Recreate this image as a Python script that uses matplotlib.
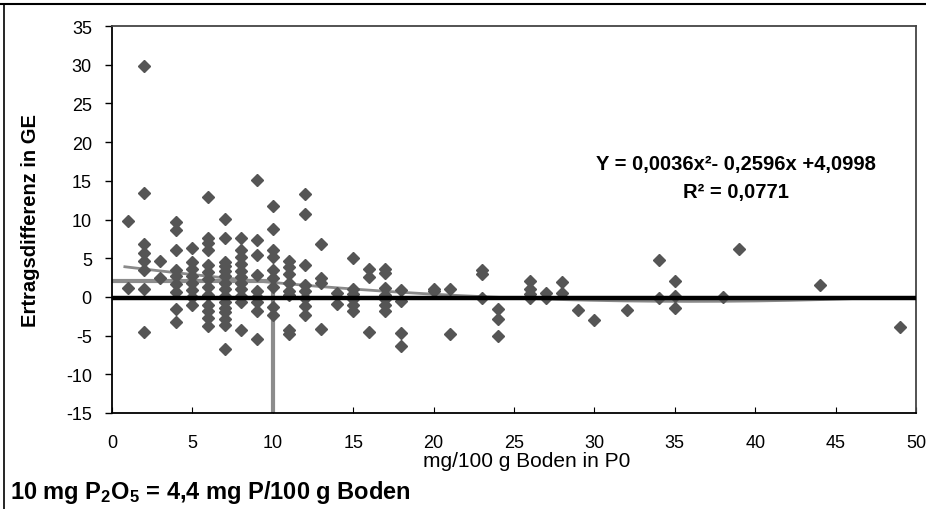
import matplotlib
matplotlib.use("Agg")
import matplotlib.pyplot as plt
from matplotlib.lines import Line2D
import numpy as np

plt.rcParams['font.family'] = ['Liberation Sans', 'DejaVu Sans']
plt.rcParams['axes.unicode_minus'] = False
plt.rcParams['mathtext.fontset'] = 'custom'
plt.rcParams['mathtext.rm'] = 'Liberation Sans:bold'
plt.rcParams['mathtext.it'] = 'Liberation Sans:bold'
plt.rcParams['mathtext.bf'] = 'Liberation Sans:bold'

# ---- data: P content (mg/100 g soil) -> yield difference (GE) ----
cols = {
    1: [9.8, 1.1],
    2: [29.8, 13.4, 6.8, 5.7, 4.6, 3.5, 1.0, -4.5],
    3: [4.7, 2.4],
    4: [9.7, 8.6, 6.1, 3.5, 2.7, 1.7, 0.6, -1.5, -3.2],
    5: [6.3, 4.5, 3.6, 2.7, 1.8, 0.9, 0.0, -1.0],
    6: [12.9, 7.6, 7.0, 6.0, 4.1, 3.2, 2.3, 1.3, 0.3, -1.0, -1.8, -2.7, -3.8],
    7: [10.1, 7.6, 4.5, 4.0, 3.3, 2.7, 1.8, 1.0, 0.1, -0.7, -1.4, -2.0, -2.8, -3.6, -6.7],
    8: [7.6, 6.1, 5.1, 4.3, 3.4, 2.6, 1.8, 1.0, 0.1, -0.7, -4.3],
    9: [15.1, 7.3, 5.4, 2.8, 0.7, 0.0, -0.7, -1.8, -5.4],
    10: [11.8, 8.8, 6.1, 5.2, 3.5, 2.4, 1.3, -1.3, -2.4],
    11: [4.7, 3.8, 2.9, 1.8, 0.7, 0.3, -4.3, -4.8],
    12: [13.3, 10.7, 4.1, 1.6, 0.8, -0.1, -1.2, -2.3],
    13: [6.8, 2.4, 1.8, -4.1],
    14: [0.5, -0.9],
    15: [5.0, 1.0, 0.4, -0.3, -1.1, -1.8],
    16: [3.6, 2.6, -4.5],
    17: [3.6, 3.1, 1.1, 0.3, -0.3, -1.0, -1.8],
    18: [0.9, -0.5, -4.6, -6.4],
    20: [1.0, 0.7],
    21: [1.0, -4.8],
    23: [3.5, 3.0, -0.2],
    24: [-1.5, -2.9, -5.0],
    26: [2.0, 1.0, 0.4, -0.2],
    27: [0.5, -0.2],
    28: [1.9, 0.5],
    29: [-1.7],
    30: [-3.0],
    32: [-1.7],
    34: [4.8, -0.2],
    35: [2.0, 0.1, -1.4],
    38: [0.0],
    39: [6.2],
    44: [1.5],
    49: [-3.9],
}
x_vals = [float(k) for k, v in cols.items() for _ in v]
y_vals = [yy for k, v in cols.items() for yy in v]

# regression Y = 0,0036x^2 - 0,2596x + 4,0998
coef = [0.0036, -0.2596, 4.0998]
trend_range = [0.8, 46.5]

# reference lines
zero_level = -0.2
ref_level = 2.0
ref_x = 10.0

x_ticks = [0, 5, 10, 15, 20, 25, 30, 35, 40, 45, 50]
y_ticks = [-15, -10, -5, 0, 5, 10, 15, 20, 25, 30, 35]

W, H = 926, 510
fig = plt.figure(figsize=(W / 100, H / 100), dpi=100)
ax = fig.add_axes([112 / W, (H - 414) / H, (916 - 112) / W, (414 - 27) / H])

# trend curve
xt = np.linspace(trend_range[0], trend_range[1], 200)
ax.plot(xt, np.polyval(coef, xt), color='#8a8a8a', lw=2.0, zorder=2)

# gray marker lines
ax.plot([0, ref_x], [ref_level, ref_level], color='#8c8c8c', lw=3.0, zorder=2,
        solid_capstyle='butt')
ax.plot([ref_x, ref_x], [ref_level, -15], color='#8c8c8c', lw=3.0, zorder=2,
        solid_capstyle='butt')

# zero line
ax.axhline(zero_level, color='black', lw=3.2, zorder=4)

# scatter
ax.plot(x_vals, y_vals, linestyle='none', marker='D', ms=6.4,
        color='#555555', mec='#555555', zorder=3)

ax.set_xlim(0, 50)
ax.set_ylim(-15, 35)
ax.set_xticks(x_ticks)
ax.set_yticks(y_ticks)
ax.tick_params(axis='y', direction='out', length=5, width=1, labelsize=13,
               pad=9.5, colors='black')
ax.tick_params(axis='x', direction='in', length=4, width=0.8, labelsize=13,
               pad=15, colors='black')
for s in ['left', 'bottom']:
    ax.spines[s].set_color('black')
    ax.spines[s].set_linewidth(1.3)
for s in ['top', 'right']:
    ax.spines[s].set_color('#444444')
    ax.spines[s].set_linewidth(1.3)

ax.set_ylabel('Ertragsdifferenz in GE', fontsize=14.5, fontweight='bold')
ax.yaxis.set_label_coords((40 - 112) / 804, 0.5)
fig.text(527 / W, 1 - 462 / H, 'mg/100 g Boden in P0', fontsize=15,
         ha='center', va='center')

ax.text((736 - 112) / 804, (414 - 178.5) / 387,
        'Y = 0,0036x²- 0,2596x +4,0998\nR² = 0,0771',
        transform=ax.transAxes, fontsize=14.5, fontweight='bold',
        ha='center', va='center', linespacing=1.55)

fig.text(10 / W, 1 - 493 / H, r'10 mg P$_2$O$_5$ = 4,4 mg P/100 g Boden',
         fontsize=17, fontweight='bold', ha='left', va='center')

# outer border lines
fig.add_artist(Line2D([0, 1], [1 - 5 / H, 1 - 5 / H], color='black', lw=1.5,
                      transform=fig.transFigure))
fig.add_artist(Line2D([4 / W, 4 / W], [0, 1 - 5 / H], color='black', lw=1.2,
                      transform=fig.transFigure))

fig.savefig('out.png', dpi=100)
